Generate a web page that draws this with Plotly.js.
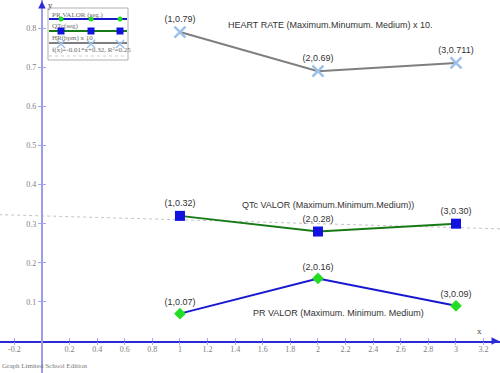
<!DOCTYPE html>
<html>
<head>
<meta charset="utf-8">
<script src="https://cdn.plot.ly/plotly-3.0.1.min.js"></script>
<style>html,body{margin:0;padding:0;background:#fff;}#chart{width:500px;height:373px;}</style>
</head>
<body>
<div id="chart"></div>
<script>
// ---- data ----
var categories = [1, 2, 3];
var hrValues = [0.79, 0.69, 0.711];
var qtcValues = [0.32, 0.28, 0.30];
var prValues = [0.07, 0.16, 0.09];
var hrLabels = ["(1,0.79)", "(2,0.69)", "(3,0.711)"];
var qtcLabels = ["(1,0.32)", "(2,0.28)", "(3,0.30)"];
var prLabels = ["(1,0.07)", "(2,0.16)", "(3,0.09)"];
var trendX = [-0.31, 3.33];
var trendY = [0.3231, 0.2867];
var xTickVals = [-0.2, 0.2, 0.4, 0.6, 0.8, 1, 1.2, 1.4, 1.6, 1.8, 2, 2.2, 2.4, 2.6, 2.8, 3, 3.2];
var xTickText = ["-0.2", "0.2", "0.4", "0.6", "0.8", "1", "1.2", "1.4", "1.6", "1.8", "2", "2.2", "2.4", "2.6", "2.8", "3", "3.2"];
var yTickVals = [0.1, 0.2, 0.3, 0.4, 0.5, 0.6, 0.7, 0.8];
var yTickText = ["0.1", "0.2", "0.3", "0.4", "0.5", "0.6", "0.7", "0.8"];
var seriesNames = ["PR VALOR (seg.)", "QTc(seg)", "HR(bpm) x 10", "f(x)=-0.01*x+0.32, R\u00b2=0.25"];
var seriesTitles = ["HEART RATE (Maximum.Minumum. Medium) x 10.", "QTc VALOR (Maximum.Minimum.Medium))", "PR VALOR (Maximum. Minimum. Medium)"];

// ---- styling ----
var W = 500, H = 373;
var xRange = [-0.304, 3.319];
var yRange = [-0.0818, 0.872];
var xZeroPos = (0 - yRange[0]) / (yRange[1] - yRange[0]);
var yZeroPos = (0 - xRange[0]) / (xRange[1] - xRange[0]);

var labelFont = {family: "Liberation Sans, Arial, sans-serif", size: 9, color: "#333"};
var tickFont = {family: "Liberation Serif, Times New Roman, serif", size: 8, color: "#808080"};
var serif = "Liberation Serif, Times New Roman, serif";

var colHR = "#7f7f7f", colHRm = "#9cc0e8";
var colQT = "#167a16", colQTm = "#1212e0";
var colPR = "#1818d0", colPRm = "#22dd22";
var colTrend = "#c4c4c4";
var tickCol = "#a8a8f0";

var traces = [
  {x: trendX, y: trendY, mode: "lines", name: seriesNames[3], showlegend: false,
   line: {color: colTrend, width: 1, dash: "dot"}, hoverinfo: "skip"},
  {x: categories, y: hrValues, mode: "lines+markers+text", name: seriesNames[2], showlegend: false,
   text: hrLabels, textposition: "top center", textfont: labelFont,
   line: {color: colHR, width: 2},
   marker: {symbol: "x-thin", size: 11, line: {color: colHRm, width: 2.5}, color: colHRm}},
  {x: categories, y: qtcValues, mode: "lines+markers+text", name: seriesNames[1], showlegend: false,
   text: qtcLabels, textposition: "top center", textfont: labelFont,
   line: {color: colQT, width: 2},
   marker: {symbol: "square", size: 10, color: colQTm}},
  {x: categories, y: prValues, mode: "lines+markers+text", name: seriesNames[0], showlegend: false,
   text: prLabels, textposition: "top center", textfont: labelFont,
   line: {color: colPR, width: 2},
   marker: {symbol: "diamond", size: 9, color: colPRm}},
  {x: [null], y: [null], xaxis: "x2", yaxis: "y2", mode: "markers", showlegend: false, hoverinfo: "skip"},
  {x: [null], y: [null], xaxis: "x3", yaxis: "y2", mode: "markers", showlegend: false, hoverinfo: "skip"}
];

// ---- custom legend (Graph-style: text above the line sample) ----
function px(x) { return x / W; }
function py(y) { return 1 - y / H; }
var shapes = [];
var annotations = [];
var box = {l: 48, r: 128, t: 8, b: 60};
shapes.push({type: "rect", xref: "paper", yref: "paper", x0: px(box.l), x1: px(box.r), y0: py(box.b), y1: py(box.t),
             line: {color: "#b0b0b0", width: 1}, fillcolor: "rgba(255,255,255,0.95)", layer: "above"});
var legendRows = [
  {name: seriesNames[0], textY: 15, lineY: 19, line: colPR, dash: "solid", marker: "circle", mcol: colPRm, ms: 5},
  {name: seriesNames[1], textY: 26, lineY: 31, line: colQT, dash: "solid", marker: "square", mcol: colQTm, ms: 7},
  {name: seriesNames[2], textY: 38, lineY: 43, line: colHR, dash: "solid", marker: "x", mcol: colHRm, ms: 8},
  {name: seriesNames[3], textY: 50, lineY: 56, line: "#e6e6e6", dash: "dot", marker: null}
];
var markerXs = [61, 91, 120];
legendRows.forEach(function (r) {
  annotations.push({xref: "paper", yref: "paper", x: px(50), y: py(r.textY), xanchor: "left", yanchor: "middle",
                    text: r.name, showarrow: false, font: {family: serif, size: 7, color: "#6a6a6a"}});
  shapes.push({type: "line", xref: "paper", yref: "paper", x0: px(box.l + 1), x1: px(box.r - 1), y0: py(r.lineY), y1: py(r.lineY),
               line: {color: r.line, width: 2, dash: r.dash}, layer: "above"});
  if (!r.marker) return;
  markerXs.forEach(function (mx) {
    var h = r.ms / 2;
    var cy = r.marker === "x" ? r.lineY + 1 : r.lineY;
    if (r.marker === "circle") {
      shapes.push({type: "circle", xref: "paper", yref: "paper", x0: px(mx - h), x1: px(mx + h), y0: py(cy + h), y1: py(cy - h),
                   fillcolor: r.mcol, line: {width: 0}, layer: "above"});
    } else if (r.marker === "square") {
      shapes.push({type: "rect", xref: "paper", yref: "paper", x0: px(mx - h), x1: px(mx + h), y0: py(cy + h), y1: py(cy - h),
                   fillcolor: r.mcol, line: {width: 0}, layer: "above"});
    } else {
      shapes.push({type: "line", xref: "paper", yref: "paper", x0: px(mx - h), x1: px(mx + h), y0: py(cy + h), y1: py(cy - h),
                   line: {color: r.mcol, width: 1.5}, layer: "above"});
      shapes.push({type: "line", xref: "paper", yref: "paper", x0: px(mx - h), x1: px(mx + h), y0: py(cy - h), y1: py(cy + h),
                   line: {color: r.mcol, width: 1.5}, layer: "above"});
    }
  });
});

annotations = annotations.concat([
  {x: 2.09, y: 0.808, xref: "x", yref: "y", text: seriesTitles[0], showarrow: false, font: labelFont},
  {x: 2.07, y: 0.348, xref: "x", yref: "y", text: seriesTitles[1], showarrow: false, font: labelFont},
  {x: 2.15, y: 0.072, xref: "x", yref: "y", text: seriesTitles[2], showarrow: false, font: labelFont},
  {x: 1, y: 0, xref: "paper", yref: "y", ax: -9, ay: 0, text: "", showarrow: true,
   arrowhead: 2, arrowsize: 1, arrowwidth: 1.5, arrowcolor: "#2a2ad6"},
  {x: 0, y: 1, xref: "x", yref: "paper", ax: 0, ay: 9, text: "", showarrow: true,
   arrowhead: 2, arrowsize: 1, arrowwidth: 1.5, arrowcolor: "#2a2ad6"},
  {x: px(479), y: py(331), xref: "paper", yref: "paper", text: "x", showarrow: false, xanchor: "center", yanchor: "middle",
   font: {family: serif, size: 9, color: "#444"}},
  {x: px(50), y: py(5), xref: "paper", yref: "paper", text: "y", showarrow: false, xanchor: "center", yanchor: "middle",
   font: {family: serif, size: 9, color: "#444"}},
  {x: 0, y: 0, xref: "paper", yref: "paper", xanchor: "left", yanchor: "bottom", yshift: 1,
   text: "Graph Limited School Edition", showarrow: false,
   font: {family: serif, size: 7, color: "#777"}}
]);

var layout = {
  width: W, height: H,
  margin: {l: 0, r: 0, t: 0, b: 0, pad: 0},
  paper_bgcolor: "#ffffff", plot_bgcolor: "#ffffff",
  showlegend: false,
  xaxis: {range: xRange, anchor: "free", position: xZeroPos, showgrid: false, zeroline: false,
          showline: true, linecolor: "#2a2ad6", linewidth: 1.5,
          tickmode: "array", tickvals: xTickVals, ticktext: xTickText,
          ticks: "", tickfont: tickFont, automargin: false, fixedrange: true},
  yaxis: {range: yRange, anchor: "free", position: yZeroPos, showgrid: false, zeroline: false,
          showline: true, linecolor: "#9c9cee", linewidth: 2,
          tickmode: "array", tickvals: yTickVals, ticktext: yTickText,
          ticks: "outside", ticklen: 3, tickcolor: tickCol, tickwidth: 1,
          tickfont: tickFont, automargin: false, fixedrange: true},
  xaxis2: {range: xRange, overlaying: "x", side: "top", anchor: "free", position: xZeroPos,
           showgrid: false, zeroline: false, showline: false,
           tickmode: "array", tickvals: xTickVals, ticks: "outside", ticklen: 3,
           tickcolor: tickCol, showticklabels: false, automargin: false, fixedrange: true},
  xaxis3: {range: xRange, overlaying: "x", side: "bottom", anchor: "free", position: xZeroPos,
           showgrid: false, zeroline: false, showline: false,
           tickmode: "array", tickvals: xTickVals, ticks: "outside", ticklen: 3,
           tickcolor: tickCol, showticklabels: false, automargin: false, fixedrange: true},
  yaxis2: {range: yRange, overlaying: "y", side: "right", anchor: "free", position: yZeroPos,
           showgrid: false, zeroline: false, showline: false,
           tickmode: "array", tickvals: yTickVals, ticks: "outside", ticklen: 3,
           tickcolor: tickCol, showticklabels: false, automargin: false, fixedrange: true},
  shapes: shapes,
  annotations: annotations
};

Plotly.newPlot("chart", traces, layout, {displayModeBar: false, staticPlot: true});
</script>
</body>
</html>
